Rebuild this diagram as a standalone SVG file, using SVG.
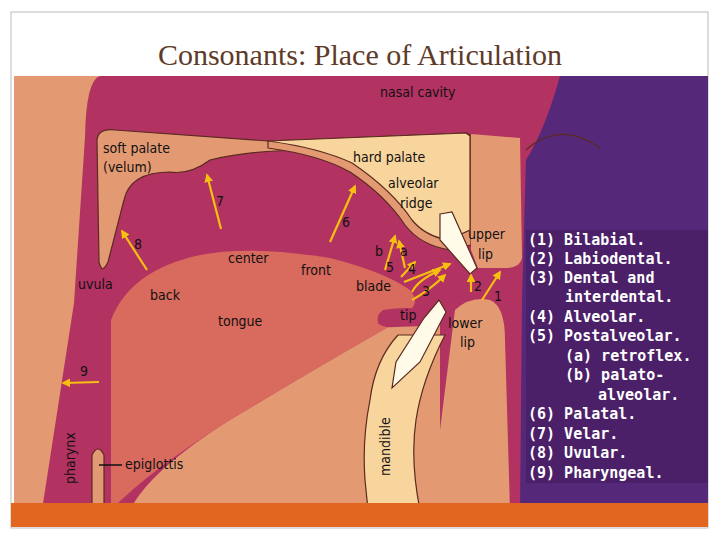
<svg xmlns="http://www.w3.org/2000/svg" width="720" height="540" viewBox="0 0 720 540">
<style>
.lb{font-family:"DejaVu Sans Condensed","DejaVu Sans",sans-serif;font-size:14px;fill:#111}
.lg{font-family:"DejaVu Sans Mono",monospace;font-size:15px;font-weight:bold;fill:#fff}
.ar{stroke:#f5c010;stroke-width:2.2;fill:none;marker-end:url(#ah)}
.ol{stroke:#5a2a20;stroke-width:1.2}
</style>
<defs><marker id="ah" viewBox="0 0 10 10" refX="8" refY="5" markerWidth="4" markerHeight="4" orient="auto"><path d="M0,0L10,5L0,10z" fill="#f5c010"/></marker></defs>
<rect width="720" height="540" fill="#fff"/>
<rect x="11" y="12" width="697" height="516" fill="none" stroke="#bbb"/>
<text x="360" y="65" text-anchor="middle" font-family="Liberation Serif,serif" font-size="30" fill="#5e3a28">Consonants: Place of Articulation</text>
<g id="scene">
<rect x="14" y="76" width="694" height="434" fill="#e39a72"/>
<path d="M42,510 L74,303 L85,137 Q86,80 100,76 L560,76 L560,510 Z" fill="#b23262"/>
<path d="M560,76 L708,76 L708,510 L520,510 L522,300 L526,160 Q545,130 560,76 Z" fill="#56287a"/>
<path d="M526,150 Q560,120 600,148" class="ol" fill="none"/>
<rect x="526" y="230" width="182" height="253" fill="#4b2068"/>
<path d="M97,140 Q98,128 115,130 L268,141 L310,150 Q250,150 210,160 Q190,175 170,172 Q130,172 124,200 L108,262 Q102,275 99,262 Z" fill="#e39a72" class="ol"/>
<path d="M268,141 L466,133 L471,135 L471,245 L450,250 Q420,245 405,225 Q385,195 350,172 Q320,155 268,148 Z" fill="#e39a72" class="ol"/>
<path d="M268,141 L466,133 L470,136 L470,230 L448,240 Q425,236 412,220 Q392,190 352,163 Q320,148 268,141 Z" fill="#f7d59c" class="ol"/>
<path d="M471,134 L520,138 L522,258 Q520,268 505,268 L478,268 L471,250 Z" fill="#e39a72"/>
<path d="M111,510 L111,320 Q130,270 200,255 Q250,245 330,258 Q385,272 410,290 Q420,302 410,310 L392,325 Q330,360 230,420 Q150,470 111,510 Z" fill="#d86a5e"/>
<path d="M392,325 Q330,360 230,420 Q150,470 130,510 L440,510 L440,320 Z" fill="#e39a72"/>
<path d="M383,310 Q376,315 378,323 Q382,328 395,327 L425,326 L428,312 Q415,305 383,310 Z" fill="#b23262"/>
<path d="M455,310 Q470,296 490,300 Q505,306 505,340 L510,510 L430,510 Z" fill="#e39a72"/>
<path d="M398,335 Q375,360 370,400 Q362,440 365,480 L368,510 L420,510 Q410,460 416,420 Q422,380 445,335 Z" fill="#f7d59c" class="ol"/>
<path d="M440,214 L452,212 L477,268 L470,274 L440,240 Z" fill="#fffbe8" class="ol"/>
<path d="M439,300 L446,312 L420,362 L392,388 L396,362 L424,318 Z" fill="#fffbe8" class="ol"/>
<path d="M92,510 L92,455 Q98,443 104,455 L104,510 Z" fill="#e39a72" class="ol"/>
<path d="M99,465 L122,465" stroke="#111" stroke-width="1.5"/>
</g>
<g id="connectors">
<path class="ar" d="M221,229 L207,175"/>
<path class="ar" d="M330,242 L355,186"/>
<path class="ar" d="M147,270 L122,231"/>
<path class="ar" d="M99,382 L63,383"/>
<path class="ar" d="M385,270 L395,236"/>
<path class="ar" d="M405,268 L399,241"/>
<path class="ar" d="M401,277 L415,262"/>
<path class="ar" d="M404,282 L450,264"/>
<path class="ar" d="M412,292 Q418,280 440,270"/>
<path class="ar" d="M412,300 Q430,290 445,275"/>
<path class="ar" d="M471,292 L471,275"/>
<path class="ar" d="M482,300 L500,272"/>
</g>
<g id="labels">
<text class="lb" x="380" y="97">nasal cavity</text>
<text class="lb" x="103" y="153">soft palate</text>
<text class="lb" x="103" y="172">(velum)</text>
<text class="lb" x="353" y="162">hard palate</text>
<text class="lb" x="388" y="188">alveolar</text>
<text class="lb" x="400" y="208">ridge</text>
<text class="lb" x="468" y="239">upper</text>
<text class="lb" x="478" y="259">lip</text>
<text class="lb" x="216" y="206">7</text>
<text class="lb" x="342" y="227">6</text>
<text class="lb" x="134" y="249">8</text>
<text class="lb" x="375" y="256">b</text>
<text class="lb" x="400" y="256">a</text>
<text class="lb" x="228" y="263">center</text>
<text class="lb" x="301" y="275">front</text>
<text class="lb" x="386" y="272">5</text>
<text class="lb" x="408" y="274">4</text>
<text class="lb" x="78" y="289">uvula</text>
<text class="lb" x="150" y="300">back</text>
<text class="lb" x="356" y="291">blade</text>
<text class="lb" x="422" y="296">3</text>
<text class="lb" x="474" y="291">2</text>
<text class="lb" x="494" y="301">1</text>
<text class="lb" x="400" y="320">tip</text>
<text class="lb" x="448" y="328">lower</text>
<text class="lb" x="460" y="347">lip</text>
<text class="lb" x="218" y="326">tongue</text>
<text class="lb" x="80" y="376">9</text>
<text class="lb" x="125" y="469">epiglottis</text>
<text class="lb" transform="translate(75,484) rotate(-90)">pharynx</text>
<text class="lb" transform="translate(390,476) rotate(-90)">mandible</text>
</g>
<g id="legend">
<text class="lg" x="528" y="245">(1) Bilabial.</text>
<text class="lg" x="528" y="264">(2) Labiodental.</text>
<text class="lg" x="528" y="283">(3) Dental and</text>
<text class="lg" x="565" y="302">interdental.</text>
<text class="lg" x="528" y="322">(4) Alveolar.</text>
<text class="lg" x="528" y="341">(5) Postalveolar.</text>
<text class="lg" x="565" y="361">(a) retroflex.</text>
<text class="lg" x="565" y="380">(b) palato-</text>
<text class="lg" x="598" y="400">alveolar.</text>
<text class="lg" x="528" y="419">(6) Palatal.</text>
<text class="lg" x="528" y="439">(7) Velar.</text>
<text class="lg" x="528" y="458">(8) Uvular.</text>
<text class="lg" x="528" y="478">(9) Pharyngeal.</text>
</g>
<rect x="11" y="503" width="697" height="24" fill="#e2661f"/>
</svg>
